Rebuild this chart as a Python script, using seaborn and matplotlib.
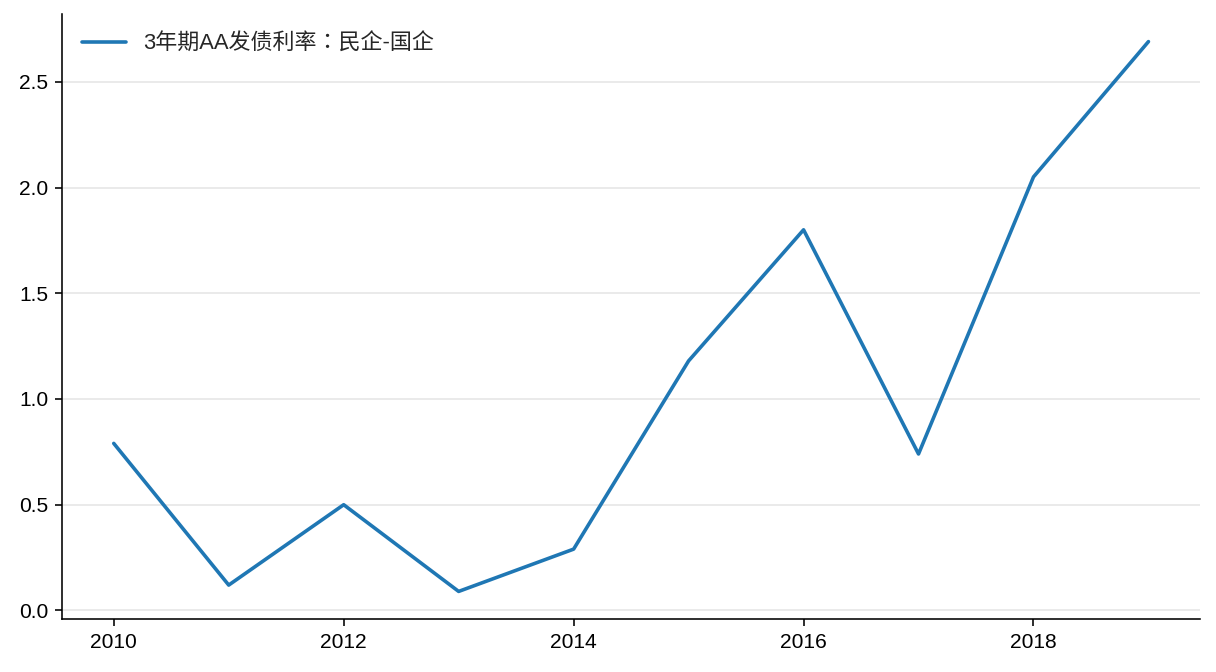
import matplotlib
matplotlib.use("Agg")
import matplotlib.pyplot as plt
import seaborn as sns
import pandas as pd

# -----------------------------------
# Data
# -----------------------------------
years = [2010, 2011, 2012, 2013, 2014, 2015, 2016, 2017, 2018, 2019]
spread = [0.79, 0.12, 0.50, 0.09, 0.29, 1.18, 1.80, 0.74, 2.05, 2.69]
series_name = "3年期AA发债利率：民企-国企"

df = pd.DataFrame({"year": years, "spread": spread})

# -----------------------------------
# Plot Style
# -----------------------------------
sns.set_style("ticks")
plt.rcParams["font.family"] = ["Liberation Sans", "Noto Sans CJK TC", "DejaVu Sans"]
plt.rcParams["axes.unicode_minus"] = False

fig = plt.figure(figsize=(1216 / 144, 672 / 144), dpi=144)
ax = fig.add_axes([0.051, 0.079, 0.936, 0.900])

sns.lineplot(data=df, x="year", y="spread", ax=ax, color="#1f77b4",
             linewidth=1.8, label=series_name)

ax.grid(axis="y", color="#e5e5e5", linewidth=0.8)
ax.set_axisbelow(True)
ax.set_xticks([2010, 2012, 2014, 2016, 2018])
ax.set_yticks([0.0, 0.5, 1.0, 1.5, 2.0, 2.5])
ax.set_xlabel("")
ax.set_ylabel("")
ax.tick_params(labelsize=10.5, colors="black")
for side in ["top", "right"]:
    ax.spines[side].set_visible(False)
for side in ["left", "bottom"]:
    ax.spines[side].set_color("black")
    ax.spines[side].set_linewidth(0.8)

ax.legend(loc="upper left", frameon=False, fontsize=11)

fig.savefig("out.png", dpi=144)
